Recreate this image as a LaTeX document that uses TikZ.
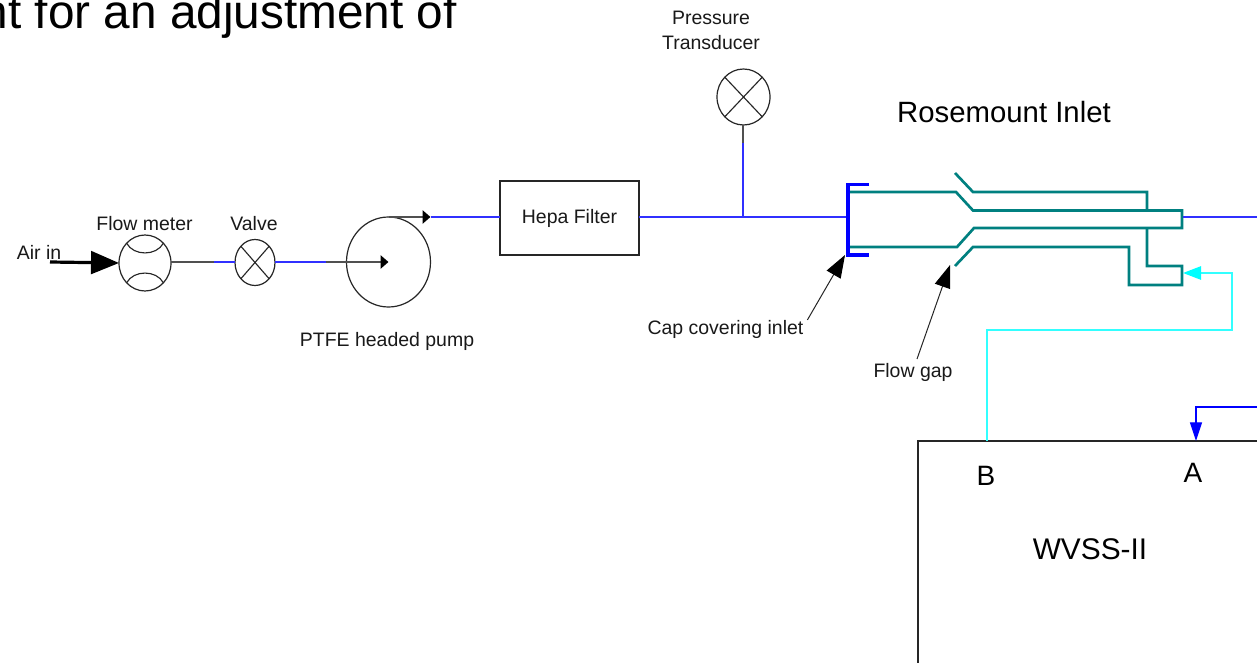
\documentclass[tikz,border=0pt]{standalone}
\usepackage{fontspec}
\setmainfont{Liberation Sans}
\usetikzlibrary{shapes.geometric,arrows.meta}
\definecolor{tealline}{HTML}{008080}
\definecolor{cyanline}{HTML}{33FFFF}
\definecolor{cyantip}{HTML}{00FFFF}
\definecolor{blueline}{HTML}{3030FF}
\definecolor{greyline}{HTML}{505050}
\definecolor{puretip}{HTML}{0000FF}
\tikzset{
  instr/.style={draw=black!85,line width=.9pt,ellipse,inner sep=0pt,outer sep=0pt},
  innerstroke/.style={draw=black!85,line width=.85pt},
  greyflow/.style={draw=greyline,line width=1.4pt},
  blueflow/.style={draw=blueline,line width=1.4pt},
  capline/.style={draw=puretip,line width=2.4pt,line join=miter},
  tealpipe/.style={draw=tealline,line width=2pt,line join=miter},
  cyanpipe/.style={draw=cyanline,line width=1.2pt},
  smalltip/.style={-{Triangle[length=6pt,width=10pt,color=black]}},
  leader/.style={draw=black!85,line width=.75pt,-{Triangle[length=17pt,width=12pt,color=black]}},
  lbl/.style={inner sep=0pt,outer sep=0pt,font=\fontsize{14.6}{18.4}\selectfont,align=center,text=black!90},
  big/.style={inner sep=0pt,outer sep=0pt,font=\fontsize{21}{25}\selectfont}
}
\begin{document}
\begin{tikzpicture}[x=.75pt,y=-.75pt]
\clip (0,0) rectangle (1257,663);
\fill[white] (0,0) rectangle (1257,663);
% cut-off heading
\node[anchor=base east,inner sep=0pt,font=\fontsize{35.8}{42}\selectfont] (heading) at (457,29) {nt for an adjustment of};
% instruments
\node[instr,minimum width=39pt,minimum height=42pt] (fm) at (145,263) {};
\node[instr,minimum width=30pt,minimum height=34.5pt] (valve) at (255,262.5) {};
\node[instr,minimum width=63pt,minimum height=67.5pt] (pump) at (388.5,262) {};
\node[instr,minimum width=39.75pt,minimum height=42pt] (pt) at (743.5,97) {};
\node[draw=black!85,line width=.9pt,minimum width=104.25pt,minimum height=55.5pt,inner sep=0pt,outer sep=0pt,lbl] (hepa) at (569.5,218) {Hepa Filter};
% inner symbols
\draw[innerstroke] (valve.north west) -- (valve.south east) (valve.north east) -- (valve.south west);
\draw[innerstroke] (pt.north west) -- (pt.south east) (pt.north east) -- (pt.south west);
\draw[innerstroke] (fm.north west) .. controls +(7,13) and +(-7,13) .. (fm.north east);
\draw[innerstroke] (fm.south west) .. controls +(7,-13) and +(-7,-13) .. (fm.south east);
% labels
\node[lbl] (lair) at (39,252) {Air in};
\node[lbl] (lfm) at (144.5,224) {Flow meter};
\node[lbl] (lvalve) at (254,224) {Valve};
\node[lbl] (lpump) at (387,341) {PTFE headed pump};
\node[lbl] (lpt) at (711,30.5) {Pressure\\Transducer};
\node[inner sep=0pt,outer sep=0pt,font=\fontsize{22}{26}\selectfont] (lrose) at (1004,112) {Rosemount Inlet};
\node[lbl] (lcap) at (725.5,329) {Cap covering inlet};
\node[lbl] (lgap) at (913,372) {Flow gap};
% flow line
\coordinate (airstart) at (50,262);
\draw[black,line width=2.4pt,-{Triangle[length=21pt,width=17pt]}] (airstart) -- (fm.west);
\coordinate (c1) at (214,262);
\coordinate (c2) at (326,262);
\draw[greyflow] (fm.east |- c1) -- (c1);
\draw[blueflow] (c1) -- (valve.west |- c1);
\draw[blueflow] (valve.east |- c2) -- (c2);
\coordinate (pumpc) at (388.5,262);
\draw[greyflow,smalltip] (c2) -- (pumpc);
\coordinate (pumpout) at (430.5,217);
\draw[greyflow,smalltip] (pump.north) -- (pumpout);
\draw[blueflow] (pumpout) -- (hepa.west |- pumpout);
\coordinate (capmid) at (848,217);
\draw[blueflow] (hepa.east |- capmid) -- (capmid);
\coordinate (ptjoin) at (743,217);
\coordinate (ptmid) at (743,143);
\draw[greyflow] (pt.south -| ptmid) -- (ptmid);
\draw[blueflow] (ptmid) -- (ptjoin);
% Rosemount inlet
\coordinate (capTR) at (869,184.5);
\coordinate (capTL) at (848,184.5);
\coordinate (capBL) at (848,255);
\coordinate (capBR) at (869,255);
\draw[tealpipe] (850,192) -- (956,192) -- (973,210.5) -- (1182,210.5) -- (1182,228) -- (974,228) -- (957,247) -- (850,247);
\draw[tealpipe] (955,173) -- (973,192) -- (1147,192) -- (1147,210.5);
\draw[tealpipe] (1147,228) -- (1147,266) -- (1182,266) -- (1182,285) -- (1129,285) -- (1129,247) -- (973,247) -- (955,266);
\draw[capline] (capTR) -- (capTL) -- (capBL) -- (capBR);
% right-hand connections
\coordinate (rosein) at (1183,273);
\coordinate (roseout) at (1183,217);
\coordinate (rightedge) at (1257,217);
\draw[blueflow] (roseout) -- (rightedge);
% WVSS box (runs off the page)
\coordinate (boxTL) at (918,441);
\coordinate (boxTR) at (1257,441);
\coordinate (boxBL) at (918,663);
\draw[draw=black!85,line width=.95pt] (boxTR) -- (boxTL) -- (boxBL);
\coordinate (portB) at (987,441);
\coordinate (portA) at (1196,441);
\coordinate (rightA) at (1257,407);
\draw[cyanpipe,-{Triangle[length=13.5pt,width=10pt,color=cyantip]}] (portB) -- (987,330) -- (1232,330) -- (1232,273) -- (rosein);
\draw[draw=puretip,line width=.9pt,-{Triangle[length=14pt,width=9pt,color=puretip]}] (rightA) -- (1196,407) -- (portA);
\node[big] (lb) at (986,476) {B};
\node[big] (la) at (1193,473) {A};
\node[inner sep=0pt,outer sep=0pt,font=\fontsize{22.4}{26}\selectfont] (lw) at (1090,549) {WVSS-II};
% leaders
\coordinate (captip) at (845,255);
\coordinate (gaptip) at (950,265);
\coordinate (gapfrom) at (917,359);
\draw[leader] ([xshift=3pt]lcap.north east) -- (captip);
\draw[leader] (gapfrom) -- (gaptip);
\end{tikzpicture}
\end{document}
